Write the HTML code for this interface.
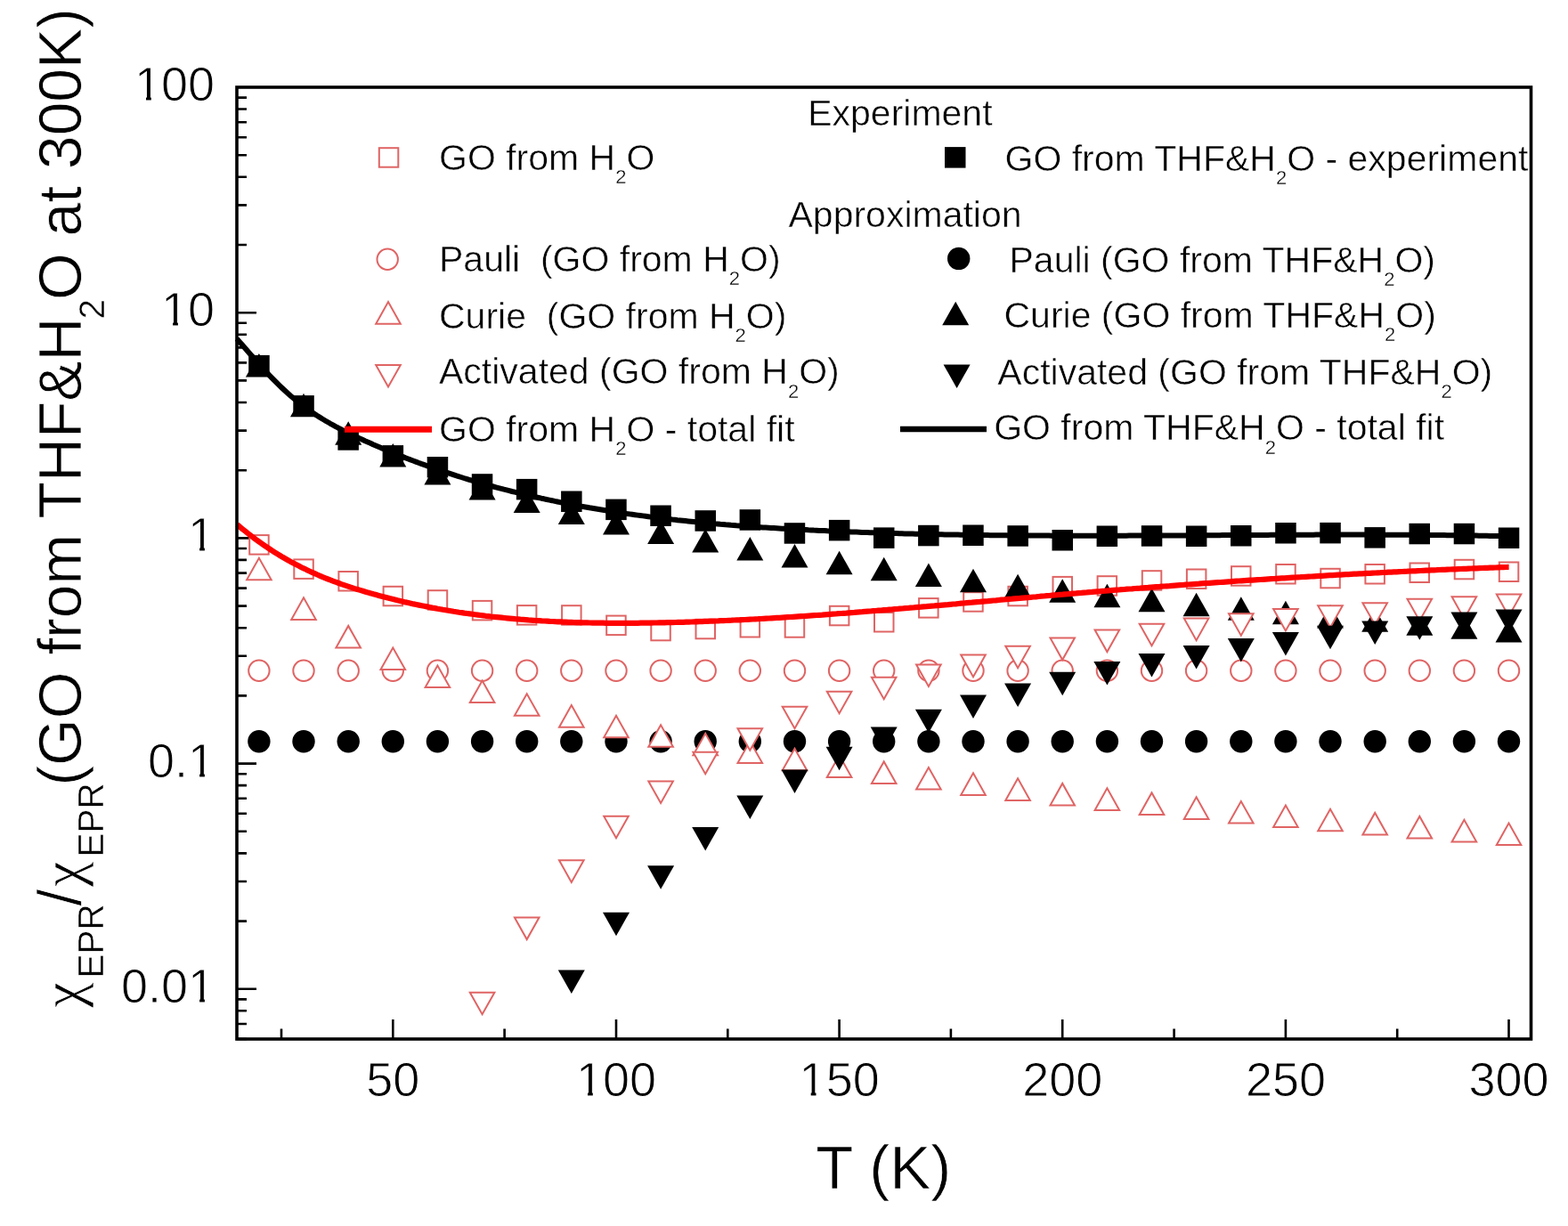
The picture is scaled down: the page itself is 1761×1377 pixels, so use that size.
<!DOCTYPE html><html><head><meta charset="utf-8"><title>chi EPR vs T</title>
<style>html,body{margin:0;padding:0;background:#fff;}svg{display:block;}text{font-family:"Liberation Sans",Arial,sans-serif;fill:#000;stroke:#fff;paint-order:fill stroke;}.tk{stroke-width:0.9px}.lg{stroke-width:0.5px}.ti{stroke-width:0.7px}.sb{stroke-width:0.35px}</style></head><body>
<svg width="1761" height="1377" viewBox="0 0 1761 1377">
<rect x="0" y="0" width="1761" height="1377" fill="#fff"/>
<path d="M316.0,1167.0V1155.5 M441.3,1167.0V1145.0 M566.6,1167.0V1155.5 M692.0,1167.0V1145.0 M817.3,1167.0V1155.5 M942.6,1167.0V1145.0 M1067.9,1167.0V1155.5 M1193.2,1167.0V1145.0 M1318.6,1167.0V1155.5 M1443.9,1167.0V1145.0 M1569.2,1167.0V1155.5 M1694.5,1167.0V1145.0 M266.0,1167.0H277.0 M266.0,1150.0H277.0 M266.0,1135.3H277.0 M266.0,1122.4H277.0 M266.0,1110.8H288.0 M266.0,1034.6H277.0 M266.0,990.0H277.0 M266.0,958.4H277.0 M266.0,933.8H277.0 M266.0,913.8H277.0 M266.0,896.8H277.0 M266.0,882.1H277.0 M266.0,869.2H277.0 M266.0,857.6H288.0 M266.0,781.4H277.0 M266.0,736.8H277.0 M266.0,705.2H277.0 M266.0,680.6H277.0 M266.0,660.6H277.0 M266.0,643.6H277.0 M266.0,628.9H277.0 M266.0,616.0H277.0 M266.0,604.4H288.0 M266.0,528.2H277.0 M266.0,483.6H277.0 M266.0,452.0H277.0 M266.0,427.4H277.0 M266.0,407.4H277.0 M266.0,390.4H277.0 M266.0,375.7H277.0 M266.0,362.8H277.0 M266.0,351.2H288.0 M266.0,275.0H277.0 M266.0,230.4H277.0 M266.0,198.8H277.0 M266.0,174.2H277.0 M266.0,154.2H277.0 M266.0,137.2H277.0 M266.0,122.5H277.0 M266.0,109.6H277.0" stroke="#000" stroke-width="2.6" fill="none"/>
<g fill="#fff" stroke="#e06464" stroke-width="2.0"><rect x="280.2" y="601.1" width="21.5" height="21.5"/><rect x="330.3" y="628.4" width="21.5" height="21.5"/><rect x="380.4" y="642.0" width="21.5" height="21.5"/><rect x="430.6" y="658.8" width="21.5" height="21.5"/><rect x="480.7" y="663.2" width="21.5" height="21.5"/><rect x="530.8" y="674.9" width="21.5" height="21.5"/><rect x="580.9" y="680.1" width="21.5" height="21.5"/><rect x="631.1" y="680.2" width="21.5" height="21.5"/><rect x="681.2" y="691.6" width="21.5" height="21.5"/><rect x="731.3" y="697.8" width="21.5" height="21.5"/><rect x="781.5" y="695.8" width="21.5" height="21.5"/><rect x="831.6" y="694.0" width="21.5" height="21.5"/><rect x="881.7" y="694.2" width="21.5" height="21.5"/><rect x="931.9" y="680.8" width="21.5" height="21.5"/><rect x="982.0" y="688.0" width="21.5" height="21.5"/><rect x="1032.1" y="672.1" width="21.5" height="21.5"/><rect x="1082.2" y="665.2" width="21.5" height="21.5"/><rect x="1132.4" y="658.8" width="21.5" height="21.5"/><rect x="1182.5" y="647.9" width="21.5" height="21.5"/><rect x="1232.6" y="647.2" width="21.5" height="21.5"/><rect x="1282.8" y="641.2" width="21.5" height="21.5"/><rect x="1332.9" y="639.5" width="21.5" height="21.5"/><rect x="1383.0" y="636.2" width="21.5" height="21.5"/><rect x="1433.2" y="634.0" width="21.5" height="21.5"/><rect x="1483.3" y="638.8" width="21.5" height="21.5"/><rect x="1533.4" y="634.0" width="21.5" height="21.5"/><rect x="1583.5" y="632.5" width="21.5" height="21.5"/><rect x="1633.7" y="628.8" width="21.5" height="21.5"/><rect x="1683.8" y="631.5" width="21.5" height="21.5"/></g>
<g fill="#000"><rect x="279.2" y="398.9" width="23.5" height="23.5"/><rect x="329.3" y="444.1" width="23.5" height="23.5"/><rect x="379.4" y="482.2" width="23.5" height="23.5"/><rect x="429.6" y="500.1" width="23.5" height="23.5"/><rect x="479.7" y="513.0" width="23.5" height="23.5"/><rect x="529.8" y="532.2" width="23.5" height="23.5"/><rect x="579.9" y="537.9" width="23.5" height="23.5"/><rect x="630.1" y="551.5" width="23.5" height="23.5"/><rect x="680.2" y="560.6" width="23.5" height="23.5"/><rect x="730.3" y="567.5" width="23.5" height="23.5"/><rect x="780.5" y="573.2" width="23.5" height="23.5"/><rect x="830.6" y="572.2" width="23.5" height="23.5"/><rect x="880.7" y="587.2" width="23.5" height="23.5"/><rect x="930.9" y="583.9" width="23.5" height="23.5"/><rect x="981.0" y="592.4" width="23.5" height="23.5"/><rect x="1031.1" y="589.8" width="23.5" height="23.5"/><rect x="1081.2" y="589.5" width="23.5" height="23.5"/><rect x="1131.4" y="590.2" width="23.5" height="23.5"/><rect x="1181.5" y="595.0" width="23.5" height="23.5"/><rect x="1231.6" y="590.5" width="23.5" height="23.5"/><rect x="1281.8" y="590.2" width="23.5" height="23.5"/><rect x="1331.9" y="590.5" width="23.5" height="23.5"/><rect x="1382.0" y="590.0" width="23.5" height="23.5"/><rect x="1432.2" y="587.0" width="23.5" height="23.5"/><rect x="1482.3" y="586.9" width="23.5" height="23.5"/><rect x="1532.4" y="592.1" width="23.5" height="23.5"/><rect x="1582.5" y="587.8" width="23.5" height="23.5"/><rect x="1632.7" y="587.8" width="23.5" height="23.5"/><rect x="1682.8" y="592.5" width="23.5" height="23.5"/></g>
<g fill="#fff" stroke="#e06464" stroke-width="2.0"><circle cx="290.9" cy="753.3" r="11.7"/><circle cx="341.0" cy="753.3" r="11.7"/><circle cx="391.2" cy="753.3" r="11.7"/><circle cx="441.3" cy="753.3" r="11.7"/><circle cx="491.4" cy="753.3" r="11.7"/><circle cx="541.6" cy="753.3" r="11.7"/><circle cx="591.7" cy="753.3" r="11.7"/><circle cx="641.8" cy="753.3" r="11.7"/><circle cx="692.0" cy="753.3" r="11.7"/><circle cx="742.1" cy="753.3" r="11.7"/><circle cx="792.2" cy="753.3" r="11.7"/><circle cx="842.3" cy="753.3" r="11.7"/><circle cx="892.5" cy="753.3" r="11.7"/><circle cx="942.6" cy="753.3" r="11.7"/><circle cx="992.7" cy="753.3" r="11.7"/><circle cx="1042.9" cy="753.3" r="11.7"/><circle cx="1093.0" cy="753.3" r="11.7"/><circle cx="1143.1" cy="753.3" r="11.7"/><circle cx="1193.2" cy="753.3" r="11.7"/><circle cx="1243.4" cy="753.3" r="11.7"/><circle cx="1293.5" cy="753.3" r="11.7"/><circle cx="1343.6" cy="753.3" r="11.7"/><circle cx="1393.8" cy="753.3" r="11.7"/><circle cx="1443.9" cy="753.3" r="11.7"/><circle cx="1494.0" cy="753.3" r="11.7"/><circle cx="1544.2" cy="753.3" r="11.7"/><circle cx="1594.3" cy="753.3" r="11.7"/><circle cx="1644.4" cy="753.3" r="11.7"/><circle cx="1694.5" cy="753.3" r="11.7"/></g>
<g fill="#000"><circle cx="290.9" cy="832.7" r="12.7"/><circle cx="341.0" cy="832.7" r="12.7"/><circle cx="391.2" cy="832.7" r="12.7"/><circle cx="441.3" cy="832.7" r="12.7"/><circle cx="491.4" cy="832.7" r="12.7"/><circle cx="541.6" cy="832.7" r="12.7"/><circle cx="591.7" cy="832.7" r="12.7"/><circle cx="641.8" cy="832.7" r="12.7"/><circle cx="692.0" cy="832.7" r="12.7"/><circle cx="742.1" cy="832.7" r="12.7"/><circle cx="792.2" cy="832.7" r="12.7"/><circle cx="842.3" cy="832.7" r="12.7"/><circle cx="892.5" cy="832.7" r="12.7"/><circle cx="942.6" cy="832.7" r="12.7"/><circle cx="992.7" cy="832.7" r="12.7"/><circle cx="1042.9" cy="832.7" r="12.7"/><circle cx="1093.0" cy="832.7" r="12.7"/><circle cx="1143.1" cy="832.7" r="12.7"/><circle cx="1193.2" cy="832.7" r="12.7"/><circle cx="1243.4" cy="832.7" r="12.7"/><circle cx="1293.5" cy="832.7" r="12.7"/><circle cx="1343.6" cy="832.7" r="12.7"/><circle cx="1393.8" cy="832.7" r="12.7"/><circle cx="1443.9" cy="832.7" r="12.7"/><circle cx="1494.0" cy="832.7" r="12.7"/><circle cx="1544.2" cy="832.7" r="12.7"/><circle cx="1594.3" cy="832.7" r="12.7"/><circle cx="1644.4" cy="832.7" r="12.7"/><circle cx="1694.5" cy="832.7" r="12.7"/></g>
<g fill="#fff" stroke="#e06464" stroke-width="2.0" stroke-linejoin="miter"><polygon points="277.1,651.3 304.7,651.3 290.9,626.7"/><polygon points="327.2,695.9 354.8,695.9 341.0,671.3"/><polygon points="377.4,727.5 405.0,727.5 391.2,702.9"/><polygon points="427.5,752.1 455.1,752.1 441.3,727.5"/><polygon points="477.6,772.1 505.2,772.1 491.4,747.5"/><polygon points="527.8,789.1 555.4,789.1 541.6,764.5"/><polygon points="577.9,803.7 605.5,803.7 591.7,779.2"/><polygon points="628.0,816.7 655.6,816.7 641.8,792.1"/><polygon points="678.2,828.3 705.8,828.3 692.0,803.7"/><polygon points="728.3,838.8 755.9,838.8 742.1,814.2"/><polygon points="778.4,848.3 806.0,848.3 792.2,823.7"/><polygon points="828.5,857.1 856.1,857.1 842.3,832.5"/><polygon points="878.7,865.3 906.3,865.3 892.5,840.7"/><polygon points="928.8,872.9 956.4,872.9 942.6,848.3"/><polygon points="978.9,880.0 1006.5,880.0 992.7,855.4"/><polygon points="1029.1,886.6 1056.7,886.6 1042.9,862.0"/><polygon points="1079.2,892.9 1106.8,892.9 1093.0,868.3"/><polygon points="1129.3,898.9 1156.9,898.9 1143.1,874.3"/><polygon points="1179.5,904.5 1207.0,904.5 1193.2,879.9"/><polygon points="1229.6,909.9 1257.2,909.9 1243.4,885.3"/><polygon points="1279.7,915.0 1307.3,915.0 1293.5,890.4"/><polygon points="1329.8,919.9 1357.4,919.9 1343.6,895.3"/><polygon points="1380.0,924.5 1407.6,924.5 1393.8,900.0"/><polygon points="1430.1,929.0 1457.7,929.0 1443.9,904.5"/><polygon points="1480.2,933.3 1507.8,933.3 1494.0,908.8"/><polygon points="1530.4,937.5 1558.0,937.5 1544.2,912.9"/><polygon points="1580.5,941.5 1608.1,941.5 1594.3,916.9"/><polygon points="1630.6,945.4 1658.2,945.4 1644.4,920.8"/><polygon points="1680.8,949.1 1708.3,949.1 1694.5,924.5"/></g>
<g fill="#000"><polygon points="275.9,423.6 305.9,423.6 290.9,397.1"/><polygon points="326.0,468.2 356.0,468.2 341.0,441.7"/><polygon points="376.2,499.8 406.2,499.8 391.2,473.3"/><polygon points="426.3,524.4 456.3,524.4 441.3,497.9"/><polygon points="476.4,544.4 506.4,544.4 491.4,517.9"/><polygon points="526.6,561.4 556.6,561.4 541.6,534.9"/><polygon points="576.7,576.0 606.7,576.0 591.7,549.5"/><polygon points="626.8,589.0 656.8,589.0 641.8,562.5"/><polygon points="677.0,600.6 707.0,600.6 692.0,574.1"/><polygon points="727.1,611.1 757.1,611.1 742.1,584.6"/><polygon points="777.2,620.6 807.2,620.6 792.2,594.1"/><polygon points="827.3,629.4 857.3,629.4 842.3,602.9"/><polygon points="877.5,637.6 907.5,637.6 892.5,611.1"/><polygon points="927.6,645.2 957.6,645.2 942.6,618.7"/><polygon points="977.7,652.3 1007.7,652.3 992.7,625.8"/><polygon points="1027.9,658.9 1057.9,658.9 1042.9,632.4"/><polygon points="1078.0,665.2 1108.0,665.2 1093.0,638.7"/><polygon points="1128.1,671.2 1158.1,671.2 1143.1,644.7"/><polygon points="1178.2,676.8 1208.2,676.8 1193.2,650.3"/><polygon points="1228.4,682.2 1258.4,682.2 1243.4,655.7"/><polygon points="1278.5,687.3 1308.5,687.3 1293.5,660.8"/><polygon points="1328.6,692.2 1358.6,692.2 1343.6,665.7"/><polygon points="1378.8,696.8 1408.8,696.8 1393.8,670.3"/><polygon points="1428.9,701.3 1458.9,701.3 1443.9,674.8"/><polygon points="1479.0,705.6 1509.0,705.6 1494.0,679.1"/><polygon points="1529.2,709.8 1559.2,709.8 1544.2,683.3"/><polygon points="1579.3,713.8 1609.3,713.8 1594.3,687.3"/><polygon points="1629.4,717.7 1659.4,717.7 1644.4,691.2"/><polygon points="1679.5,721.4 1709.5,721.4 1694.5,694.9"/></g>
<g fill="#fff" stroke="#e06464" stroke-width="2.0" stroke-linejoin="miter"><polygon points="527.8,1114.7 555.4,1114.7 541.6,1139.3"/><polygon points="577.9,1030.5 605.5,1030.5 591.7,1055.1"/><polygon points="628.0,966.3 655.6,966.3 641.8,990.9"/><polygon points="678.2,916.7 705.8,916.7 692.0,941.3"/><polygon points="728.3,877.4 755.9,877.4 742.1,902.0"/><polygon points="778.4,844.7 806.0,844.7 792.2,869.3"/><polygon points="828.5,818.2 856.1,818.2 842.3,842.8"/><polygon points="878.7,793.7 906.3,793.7 892.5,818.3"/><polygon points="928.8,776.7 956.4,776.7 942.6,801.3"/><polygon points="978.9,760.7 1006.5,760.7 992.7,785.3"/><polygon points="1029.1,746.4 1056.7,746.4 1042.9,771.0"/><polygon points="1079.2,735.6 1106.8,735.6 1093.0,760.2"/><polygon points="1129.3,725.7 1156.9,725.7 1143.1,750.3"/><polygon points="1179.5,716.5 1207.0,716.5 1193.2,741.1"/><polygon points="1229.6,707.5 1257.2,707.5 1243.4,732.1"/><polygon points="1279.7,700.7 1307.3,700.7 1293.5,725.3"/><polygon points="1329.8,694.6 1357.4,694.6 1343.6,719.2"/><polygon points="1380.0,689.2 1407.6,689.2 1393.8,713.8"/><polygon points="1430.1,683.9 1457.7,683.9 1443.9,708.5"/><polygon points="1480.2,680.2 1507.8,680.2 1494.0,704.8"/><polygon points="1530.4,677.2 1558.0,677.2 1544.2,701.8"/><polygon points="1580.5,672.7 1608.1,672.7 1594.3,697.3"/><polygon points="1630.6,670.3 1658.2,670.3 1644.4,694.9"/><polygon points="1680.8,667.6 1708.3,667.6 1694.5,692.2"/></g>
<g fill="#000"><polygon points="626.8,1089.5 656.8,1089.5 641.8,1116.0"/><polygon points="677.0,1024.7 707.0,1024.7 692.0,1051.2"/><polygon points="727.1,972.2 757.1,972.2 742.1,998.8"/><polygon points="777.2,929.1 807.2,929.1 792.2,955.6"/><polygon points="827.3,893.5 857.3,893.5 842.3,920.0"/><polygon points="877.5,864.5 907.5,864.5 892.5,891.0"/><polygon points="927.6,838.8 957.6,838.8 942.6,865.2"/><polygon points="977.7,816.5 1007.7,816.5 992.7,843.0"/><polygon points="1027.9,796.8 1057.9,796.8 1042.9,823.2"/><polygon points="1078.0,780.5 1108.0,780.5 1093.0,807.0"/><polygon points="1128.1,767.4 1158.1,767.4 1143.1,793.9"/><polygon points="1178.2,754.8 1208.2,754.8 1193.2,781.2"/><polygon points="1228.4,743.0 1258.4,743.0 1243.4,769.5"/><polygon points="1278.5,734.1 1308.5,734.1 1293.5,760.6"/><polygon points="1328.6,725.1 1358.6,725.1 1343.6,751.6"/><polygon points="1378.8,717.0 1408.8,717.0 1393.8,743.5"/><polygon points="1428.9,710.0 1458.9,710.0 1443.9,736.5"/><polygon points="1479.0,702.8 1509.0,702.8 1494.0,729.2"/><polygon points="1529.2,697.5 1559.2,697.5 1544.2,724.0"/><polygon points="1579.3,692.2 1609.3,692.2 1594.3,718.8"/><polygon points="1629.4,687.6 1659.4,687.6 1644.4,714.1"/><polygon points="1679.5,684.5 1709.5,684.5 1694.5,711.0"/></g>
<path d="M266.5,589.2 L269.5,591.8 L272.5,594.3 L275.5,596.7 L278.5,599.1 L281.5,601.4 L284.5,603.7 L287.5,606.0 L290.5,608.1 L293.5,610.3 L296.5,612.4 L299.5,614.4 L302.5,616.4 L305.5,618.4 L308.5,620.3 L311.5,622.2 L314.5,624.0 L317.5,625.8 L320.5,627.5 L323.5,629.2 L326.5,630.9 L329.5,632.5 L332.5,634.1 L335.5,635.6 L338.5,637.2 L341.5,638.6 L344.5,640.1 L347.5,641.5 L350.5,642.9 L353.5,644.2 L356.5,645.5 L359.5,646.8 L362.5,648.1 L365.5,649.3 L368.5,650.5 L371.5,651.6 L374.5,652.8 L377.5,653.9 L380.5,655.0 L383.5,656.1 L386.5,657.1 L389.5,658.1 L392.5,659.1 L395.5,660.1 L398.5,661.1 L401.5,662.0 L404.5,662.9 L407.5,663.8 L410.5,664.7 L413.5,665.6 L416.5,666.4 L419.5,667.3 L422.5,668.1 L425.5,668.9 L428.5,669.7 L431.5,670.5 L434.5,671.3 L437.5,672.1 L440.5,672.8 L443.5,673.5 L446.5,674.3 L449.5,675.0 L452.5,675.7 L455.5,676.4 L458.5,677.0 L461.5,677.7 L464.5,678.4 L467.5,679.0 L470.5,679.6 L473.5,680.2 L476.5,680.8 L479.5,681.4 L482.5,682.0 L485.5,682.6 L488.5,683.1 L491.5,683.7 L494.5,684.2 L497.5,684.8 L500.5,685.3 L503.5,685.8 L506.5,686.3 L509.5,686.8 L512.5,687.2 L515.5,687.7 L518.5,688.1 L521.5,688.6 L524.5,689.0 L527.5,689.4 L530.5,689.8 L533.5,690.2 L536.5,690.6 L539.5,691.0 L542.5,691.4 L545.5,691.8 L548.5,692.1 L551.5,692.5 L554.5,692.8 L557.5,693.1 L560.5,693.4 L563.5,693.7 L566.5,694.0 L569.5,694.3 L572.5,694.6 L575.5,694.9 L578.5,695.2 L581.5,695.4 L584.5,695.7 L587.5,695.9 L590.5,696.1 L593.5,696.4 L596.5,696.6 L599.5,696.8 L602.5,697.0 L605.5,697.2 L608.5,697.4 L611.5,697.5 L614.5,697.7 L617.5,697.9 L620.5,698.0 L623.5,698.2 L626.5,698.3 L629.5,698.4 L632.5,698.6 L635.5,698.7 L638.5,698.8 L641.5,698.9 L644.5,699.0 L647.5,699.1 L650.5,699.2 L653.5,699.3 L656.5,699.4 L659.5,699.4 L662.5,699.5 L665.5,699.6 L668.5,699.6 L671.5,699.7 L674.5,699.7 L677.5,699.7 L680.5,699.8 L683.5,699.8 L686.5,699.8 L689.5,699.8 L692.5,699.8 L695.5,699.8 L698.5,699.9 L701.5,699.8 L704.5,699.8 L707.5,699.8 L710.5,699.8 L713.5,699.8 L716.5,699.8 L719.5,699.7 L722.5,699.7 L725.5,699.7 L728.5,699.6 L731.5,699.6 L734.5,699.5 L737.5,699.5 L740.5,699.4 L743.5,699.4 L746.5,699.3 L749.5,699.2 L752.5,699.2 L755.5,699.1 L758.5,699.0 L761.5,698.9 L764.5,698.8 L767.5,698.8 L770.5,698.7 L773.5,698.6 L776.5,698.5 L779.5,698.4 L782.5,698.3 L785.5,698.2 L788.5,698.1 L791.5,697.9 L794.5,697.8 L797.5,697.7 L800.5,697.6 L803.5,697.5 L806.5,697.4 L809.5,697.2 L812.5,697.1 L815.5,697.0 L818.5,696.8 L821.5,696.7 L824.5,696.5 L827.5,696.4 L830.5,696.3 L833.5,696.1 L836.5,696.0 L839.5,695.8 L842.5,695.6 L845.5,695.5 L848.5,695.3 L851.5,695.2 L854.5,695.0 L857.5,694.8 L860.5,694.6 L863.5,694.5 L866.5,694.3 L869.5,694.1 L872.5,693.9 L875.5,693.8 L878.5,693.6 L881.5,693.4 L884.5,693.2 L887.5,693.0 L890.5,692.8 L893.5,692.6 L896.5,692.4 L899.5,692.2 L902.5,692.0 L905.5,691.8 L908.5,691.6 L911.5,691.4 L914.5,691.2 L917.5,691.0 L920.5,690.8 L923.5,690.6 L926.5,690.3 L929.5,690.1 L932.5,689.9 L935.5,689.7 L938.5,689.5 L941.5,689.2 L944.5,689.0 L947.5,688.8 L950.5,688.6 L953.5,688.3 L956.5,688.1 L959.5,687.9 L962.5,687.6 L965.5,687.4 L968.5,687.2 L971.5,686.9 L974.5,686.7 L977.5,686.5 L980.5,686.2 L983.5,686.0 L986.5,685.7 L989.5,685.5 L992.5,685.2 L995.5,685.0 L998.5,684.7 L1001.5,684.5 L1004.5,684.2 L1007.5,684.0 L1010.5,683.7 L1013.5,683.5 L1016.5,683.2 L1019.5,683.0 L1022.5,682.7 L1025.5,682.5 L1028.5,682.2 L1031.5,681.9 L1034.5,681.7 L1037.5,681.4 L1040.5,681.2 L1043.5,680.9 L1046.5,680.6 L1049.5,680.4 L1052.5,680.1 L1055.5,679.9 L1058.5,679.6 L1061.5,679.3 L1064.5,679.1 L1067.5,678.8 L1070.5,678.5 L1073.5,678.3 L1076.5,678.0 L1079.5,677.7 L1082.5,677.5 L1085.5,677.2 L1088.5,676.9 L1091.5,676.7 L1094.5,676.4 L1097.5,676.1 L1100.5,675.9 L1103.5,675.6 L1106.5,675.3 L1109.5,675.1 L1112.5,674.8 L1115.5,674.5 L1118.5,674.3 L1121.5,674.0 L1124.5,673.7 L1127.5,673.5 L1130.5,673.2 L1133.5,672.9 L1136.5,672.7 L1139.5,672.4 L1142.5,672.1 L1145.5,671.9 L1148.5,671.6 L1151.5,671.3 L1154.5,671.1 L1157.5,670.8 L1160.5,670.5 L1163.5,670.3 L1166.5,670.0 L1169.5,669.7 L1172.5,669.5 L1175.5,669.2 L1178.5,669.0 L1181.5,668.7 L1184.5,668.4 L1187.5,668.2 L1190.5,667.9 L1193.5,667.7 L1196.5,667.4 L1199.5,667.2 L1202.5,666.9 L1205.5,666.6 L1208.5,666.4 L1211.5,666.1 L1214.5,665.9 L1217.5,665.6 L1220.5,665.4 L1223.5,665.1 L1226.5,664.9 L1229.5,664.6 L1232.5,664.4 L1235.5,664.2 L1238.5,663.9 L1241.5,663.7 L1244.5,663.4 L1247.5,663.2 L1250.5,662.9 L1253.5,662.7 L1256.5,662.5 L1259.5,662.2 L1262.5,662.0 L1265.5,661.7 L1268.5,661.5 L1271.5,661.3 L1274.5,661.0 L1277.5,660.8 L1280.5,660.6 L1283.5,660.3 L1286.5,660.1 L1289.5,659.9 L1292.5,659.6 L1295.5,659.4 L1298.5,659.2 L1301.5,659.0 L1304.5,658.7 L1307.5,658.5 L1310.5,658.3 L1313.5,658.1 L1316.5,657.8 L1319.5,657.6 L1322.5,657.4 L1325.5,657.2 L1328.5,657.0 L1331.5,656.7 L1334.5,656.5 L1337.5,656.3 L1340.5,656.1 L1343.5,655.9 L1346.5,655.7 L1349.5,655.4 L1352.5,655.2 L1355.5,655.0 L1358.5,654.8 L1361.5,654.6 L1364.5,654.4 L1367.5,654.2 L1370.5,654.0 L1373.5,653.8 L1376.5,653.6 L1379.5,653.4 L1382.5,653.2 L1385.5,652.9 L1388.5,652.7 L1391.5,652.5 L1394.5,652.3 L1397.5,652.1 L1400.5,651.9 L1403.5,651.7 L1406.5,651.6 L1409.5,651.4 L1412.5,651.2 L1415.5,651.0 L1418.5,650.8 L1421.5,650.6 L1424.5,650.4 L1427.5,650.2 L1430.5,650.0 L1433.5,649.8 L1436.5,649.6 L1439.5,649.4 L1442.5,649.3 L1445.5,649.1 L1448.5,648.9 L1451.5,648.7 L1454.5,648.5 L1457.5,648.3 L1460.5,648.2 L1463.5,648.0 L1466.5,647.8 L1469.5,647.6 L1472.5,647.5 L1475.5,647.3 L1478.5,647.1 L1481.5,646.9 L1484.5,646.8 L1487.5,646.6 L1490.5,646.4 L1493.5,646.2 L1496.5,646.1 L1499.5,645.9 L1502.5,645.7 L1505.5,645.6 L1508.5,645.4 L1511.5,645.2 L1514.5,645.1 L1517.5,644.9 L1520.5,644.7 L1523.5,644.6 L1526.5,644.4 L1529.5,644.3 L1532.5,644.1 L1535.5,643.9 L1538.5,643.8 L1541.5,643.6 L1544.5,643.5 L1547.5,643.3 L1550.5,643.2 L1553.5,643.0 L1556.5,642.9 L1559.5,642.7 L1562.5,642.6 L1565.5,642.4 L1568.5,642.3 L1571.5,642.1 L1574.5,642.0 L1577.5,641.8 L1580.5,641.7 L1583.5,641.5 L1586.5,641.4 L1589.5,641.3 L1592.5,641.1 L1595.5,641.0 L1598.5,640.8 L1601.5,640.7 L1604.5,640.6 L1607.5,640.4 L1610.5,640.3 L1613.5,640.2 L1616.5,640.0 L1619.5,639.9 L1622.5,639.8 L1625.5,639.6 L1628.5,639.5 L1631.5,639.4 L1634.5,639.3 L1637.5,639.1 L1640.5,639.0 L1643.5,638.9 L1646.5,638.8 L1649.5,638.6 L1652.5,638.5 L1655.5,638.4 L1658.5,638.3 L1661.5,638.1 L1664.5,638.0 L1667.5,637.9 L1670.5,637.8 L1673.5,637.7 L1676.5,637.6 L1679.5,637.5 L1682.5,637.3 L1685.5,637.2 L1688.5,637.1 L1691.5,637.0 L1694.5,636.9 L1694.6,636.9" fill="none" stroke="#ff0000" stroke-width="6.2" stroke-linejoin="round"/>
<path d="M266.0,380.6 L269.0,383.9 L272.0,387.3 L275.0,390.7 L278.0,394.2 L281.0,397.7 L284.0,401.1 L287.0,404.5 L290.0,407.9 L293.0,411.2 L296.0,414.5 L299.0,417.8 L302.0,421.0 L305.0,424.1 L308.0,427.2 L311.0,430.2 L314.0,433.1 L317.0,436.0 L320.0,438.8 L323.0,441.5 L326.0,444.2 L329.0,446.7 L332.0,449.2 L335.0,451.7 L338.0,454.0 L341.0,456.3 L344.0,458.5 L347.0,460.6 L350.0,462.7 L353.0,464.7 L356.0,466.7 L359.0,468.6 L362.0,470.5 L365.0,472.3 L368.0,474.0 L371.0,475.8 L374.0,477.4 L377.0,479.1 L380.0,480.7 L383.0,482.2 L386.0,483.8 L389.0,485.3 L392.0,486.7 L395.0,488.2 L398.0,489.6 L401.0,491.0 L404.0,492.4 L407.0,493.8 L410.0,495.2 L413.0,496.5 L416.0,497.8 L419.0,499.2 L422.0,500.5 L425.0,501.8 L428.0,503.1 L431.0,504.3 L434.0,505.6 L437.0,506.8 L440.0,508.1 L443.0,509.3 L446.0,510.5 L449.0,511.7 L452.0,512.9 L455.0,514.1 L458.0,515.2 L461.0,516.4 L464.0,517.5 L467.0,518.6 L470.0,519.8 L473.0,520.9 L476.0,521.9 L479.0,523.0 L482.0,524.1 L485.0,525.1 L488.0,526.2 L491.0,527.2 L494.0,528.2 L497.0,529.3 L500.0,530.3 L503.0,531.2 L506.0,532.2 L509.0,533.2 L512.0,534.2 L515.0,535.1 L518.0,536.0 L521.0,537.0 L524.0,537.9 L527.0,538.8 L530.0,539.7 L533.0,540.6 L536.0,541.4 L539.0,542.3 L542.0,543.2 L545.0,544.0 L548.0,544.8 L551.0,545.7 L554.0,546.5 L557.0,547.3 L560.0,548.1 L563.0,548.9 L566.0,549.7 L569.0,550.4 L572.0,551.2 L575.0,552.0 L578.0,552.7 L581.0,553.4 L584.0,554.2 L587.0,554.9 L590.0,555.6 L593.0,556.3 L596.0,557.0 L599.0,557.7 L602.0,558.3 L605.0,559.0 L608.0,559.7 L611.0,560.3 L614.0,561.0 L617.0,561.6 L620.0,562.2 L623.0,562.9 L626.0,563.5 L629.0,564.1 L632.0,564.7 L635.0,565.3 L638.0,565.9 L641.0,566.4 L644.0,567.0 L647.0,567.6 L650.0,568.1 L653.0,568.7 L656.0,569.2 L659.0,569.7 L662.0,570.3 L665.0,570.8 L668.0,571.3 L671.0,571.8 L674.0,572.3 L677.0,572.8 L680.0,573.3 L683.0,573.8 L686.0,574.2 L689.0,574.7 L692.0,575.2 L695.0,575.6 L698.0,576.1 L701.0,576.5 L704.0,577.0 L707.0,577.4 L710.0,577.8 L713.0,578.2 L716.0,578.6 L719.0,579.0 L722.0,579.4 L725.0,579.8 L728.0,580.2 L731.0,580.6 L734.0,581.0 L737.0,581.4 L740.0,581.7 L743.0,582.1 L746.0,582.4 L749.0,582.8 L752.0,583.1 L755.0,583.5 L758.0,583.8 L761.0,584.2 L764.0,584.5 L767.0,584.8 L770.0,585.1 L773.0,585.4 L776.0,585.7 L779.0,586.0 L782.0,586.3 L785.0,586.6 L788.0,586.9 L791.0,587.2 L794.0,587.5 L797.0,587.7 L800.0,588.0 L803.0,588.3 L806.0,588.5 L809.0,588.8 L812.0,589.0 L815.0,589.3 L818.0,589.5 L821.0,589.8 L824.0,590.0 L827.0,590.3 L830.0,590.5 L833.0,590.7 L836.0,590.9 L839.0,591.1 L842.0,591.4 L845.0,591.6 L848.0,591.8 L851.0,592.0 L854.0,592.2 L857.0,592.4 L860.0,592.6 L863.0,592.8 L866.0,593.0 L869.0,593.1 L872.0,593.3 L875.0,593.5 L878.0,593.7 L881.0,593.8 L884.0,594.0 L887.0,594.2 L890.0,594.4 L893.0,594.5 L896.0,594.7 L899.0,594.8 L902.0,595.0 L905.0,595.1 L908.0,595.3 L911.0,595.4 L914.0,595.6 L917.0,595.7 L920.0,595.9 L923.0,596.0 L926.0,596.1 L929.0,596.3 L932.0,596.4 L935.0,596.5 L938.0,596.7 L941.0,596.8 L944.0,596.9 L947.0,597.0 L950.0,597.2 L953.0,597.3 L956.0,597.4 L959.0,597.5 L962.0,597.6 L965.0,597.7 L968.0,597.9 L971.0,598.0 L974.0,598.1 L977.0,598.2 L980.0,598.3 L983.0,598.4 L986.0,598.5 L989.0,598.6 L992.0,598.7 L995.0,598.8 L998.0,598.8 L1001.0,598.9 L1004.0,599.0 L1007.0,599.1 L1010.0,599.2 L1013.0,599.3 L1016.0,599.4 L1019.0,599.4 L1022.0,599.5 L1025.0,599.6 L1028.0,599.7 L1031.0,599.7 L1034.0,599.8 L1037.0,599.9 L1040.0,599.9 L1043.0,600.0 L1046.0,600.1 L1049.0,600.1 L1052.0,600.2 L1055.0,600.3 L1058.0,600.3 L1061.0,600.4 L1064.0,600.4 L1067.0,600.5 L1070.0,600.5 L1073.0,600.6 L1076.0,600.6 L1079.0,600.7 L1082.0,600.7 L1085.0,600.8 L1088.0,600.8 L1091.0,600.9 L1094.0,600.9 L1097.0,601.0 L1100.0,601.0 L1103.0,601.0 L1106.0,601.1 L1109.0,601.1 L1112.0,601.2 L1115.0,601.2 L1118.0,601.2 L1121.0,601.3 L1124.0,601.3 L1127.0,601.3 L1130.0,601.3 L1133.0,601.4 L1136.0,601.4 L1139.0,601.4 L1142.0,601.4 L1145.0,601.5 L1148.0,601.5 L1151.0,601.5 L1154.0,601.5 L1157.0,601.5 L1160.0,601.6 L1163.0,601.6 L1166.0,601.6 L1169.0,601.6 L1172.0,601.6 L1175.0,601.6 L1178.0,601.6 L1181.0,601.7 L1184.0,601.7 L1187.0,601.7 L1190.0,601.7 L1193.0,601.7 L1196.0,601.7 L1199.0,601.7 L1202.0,601.7 L1205.0,601.7 L1208.0,601.7 L1211.0,601.7 L1214.0,601.7 L1217.0,601.7 L1220.0,601.7 L1223.0,601.7 L1226.0,601.7 L1229.0,601.7 L1232.0,601.7 L1235.0,601.7 L1238.0,601.7 L1241.0,601.7 L1244.0,601.7 L1247.0,601.7 L1250.0,601.7 L1253.0,601.7 L1256.0,601.7 L1259.0,601.7 L1262.0,601.7 L1265.0,601.7 L1268.0,601.6 L1271.0,601.6 L1274.0,601.6 L1277.0,601.6 L1280.0,601.6 L1283.0,601.6 L1286.0,601.6 L1289.0,601.6 L1292.0,601.6 L1295.0,601.5 L1298.0,601.5 L1301.0,601.5 L1304.0,601.5 L1307.0,601.5 L1310.0,601.5 L1313.0,601.5 L1316.0,601.4 L1319.0,601.4 L1322.0,601.4 L1325.0,601.4 L1328.0,601.4 L1331.0,601.4 L1334.0,601.4 L1337.0,601.3 L1340.0,601.3 L1343.0,601.3 L1346.0,601.3 L1349.0,601.3 L1352.0,601.3 L1355.0,601.2 L1358.0,601.2 L1361.0,601.2 L1364.0,601.2 L1367.0,601.2 L1370.0,601.2 L1373.0,601.1 L1376.0,601.1 L1379.0,601.1 L1382.0,601.1 L1385.0,601.1 L1388.0,601.1 L1391.0,601.0 L1394.0,601.0 L1397.0,601.0 L1400.0,601.0 L1403.0,601.0 L1406.0,601.0 L1409.0,600.9 L1412.0,600.9 L1415.0,600.9 L1418.0,600.9 L1421.0,600.9 L1424.0,600.9 L1427.0,600.8 L1430.0,600.8 L1433.0,600.8 L1436.0,600.8 L1439.0,600.8 L1442.0,600.8 L1445.0,600.8 L1448.0,600.7 L1451.0,600.7 L1454.0,600.7 L1457.0,600.7 L1460.0,600.7 L1463.0,600.7 L1466.0,600.7 L1469.0,600.7 L1472.0,600.7 L1475.0,600.7 L1478.0,600.6 L1481.0,600.6 L1484.0,600.6 L1487.0,600.6 L1490.0,600.6 L1493.0,600.6 L1496.0,600.6 L1499.0,600.6 L1502.0,600.6 L1505.0,600.6 L1508.0,600.6 L1511.0,600.6 L1514.0,600.6 L1517.0,600.6 L1520.0,600.6 L1523.0,600.6 L1526.0,600.6 L1529.0,600.6 L1532.0,600.6 L1535.0,600.6 L1538.0,600.6 L1541.0,600.6 L1544.0,600.6 L1547.0,600.6 L1550.0,600.6 L1553.0,600.6 L1556.0,600.7 L1559.0,600.7 L1562.0,600.7 L1565.0,600.7 L1568.0,600.7 L1571.0,600.7 L1574.0,600.7 L1577.0,600.8 L1580.0,600.8 L1583.0,600.8 L1586.0,600.8 L1589.0,600.8 L1592.0,600.8 L1595.0,600.9 L1598.0,600.9 L1601.0,600.9 L1604.0,600.9 L1607.0,601.0 L1610.0,601.0 L1613.0,601.0 L1616.0,601.1 L1619.0,601.1 L1622.0,601.1 L1625.0,601.2 L1628.0,601.2 L1631.0,601.2 L1634.0,601.3 L1637.0,601.3 L1640.0,601.3 L1643.0,601.4 L1646.0,601.4 L1649.0,601.5 L1652.0,601.5 L1655.0,601.6 L1658.0,601.6 L1661.0,601.7 L1664.0,601.7 L1667.0,601.8 L1670.0,601.8 L1673.0,601.9 L1676.0,601.9 L1679.0,602.0 L1682.0,602.0 L1685.0,602.1 L1688.0,602.2 L1691.0,602.2 L1694.0,602.3 L1694.6,602.3" fill="none" stroke="#000" stroke-width="6" stroke-linejoin="round"/>
<rect x="266.0" y="98.0" width="1453.5" height="1069.0" fill="none" stroke="#000" stroke-width="3.6"/>
<text class="tk" x="411.3" y="1231" font-size="54">50</text>
<text class="tk" x="646.9" y="1231" font-size="54">100</text>
<text class="tk" x="897.6" y="1231" font-size="54">150</text>
<text class="tk" x="1148.2" y="1231" font-size="54">200</text>
<text class="tk" x="1398.9" y="1231" font-size="54">250</text>
<text class="tk" x="1649.5" y="1231" font-size="54">300</text>
<text class="tk" x="150.9" y="113.0" font-size="54">100</text>
<text class="tk" x="181.0" y="366.2" font-size="54">10</text>
<text class="tk" x="211.0" y="619.4" font-size="54">1</text>
<text class="tk" x="165.9" y="872.6" font-size="54">0.1</text>
<text class="tk" x="135.9" y="1125.8" font-size="54">0.01</text>
<g fill="#fff"><rect x="649.4" y="1226.0" width="10.6" height="6.5"/><rect x="665.8" y="1226.0" width="10.6" height="6.5"/><rect x="900.1" y="1226.0" width="10.6" height="6.5"/><rect x="916.5" y="1226.0" width="10.6" height="6.5"/><rect x="153.4" y="108.0" width="10.6" height="6.5"/><rect x="169.8" y="108.0" width="10.6" height="6.5"/><rect x="183.5" y="361.2" width="10.6" height="6.5"/><rect x="199.9" y="361.2" width="10.6" height="6.5"/><rect x="213.5" y="614.4" width="10.6" height="6.5"/><rect x="229.9" y="614.4" width="10.6" height="6.5"/><rect x="213.5" y="867.6" width="10.6" height="6.5"/><rect x="229.9" y="867.6" width="10.6" height="6.5"/><rect x="213.5" y="1120.8" width="10.6" height="6.5"/><rect x="229.9" y="1120.8" width="10.6" height="6.5"/></g>
<text class="ti" x="916.2" y="1335" font-size="69">T (K)</text>
<text class="ti" transform="translate(91,1131.8) rotate(-90)" font-size="64" style="font-family:&quot;Liberation Serif&quot;, serif">χ</text>
<text class="lg" transform="translate(116,1098.5) rotate(-90)" font-size="40.5" style="font-family:&quot;Liberation Sans&quot;, sans-serif">EPR</text>
<text class="ti" transform="translate(91,1017.5) rotate(-90)" font-size="67.8" style="font-family:&quot;Liberation Sans&quot;, sans-serif">/</text>
<text class="ti" transform="translate(91,996) rotate(-90)" font-size="64" style="font-family:&quot;Liberation Serif&quot;, serif">χ</text>
<text class="lg" transform="translate(116,962.5) rotate(-90)" font-size="40.5" style="font-family:&quot;Liberation Sans&quot;, sans-serif">EPR</text>
<text class="ti" transform="translate(91,882.5) rotate(-90)" font-size="67.8" style="font-family:&quot;Liberation Sans&quot;, sans-serif">(GO from THF&amp;H</text>
<text class="lg" transform="translate(117,358.6) rotate(-90)" font-size="40.5" style="font-family:&quot;Liberation Sans&quot;, sans-serif">2</text>
<text class="ti" transform="translate(91,337) rotate(-90)" font-size="67.8" style="font-family:&quot;Liberation Sans&quot;, sans-serif">O at 300K)</text>
<text class="lg" x="907.2" y="140.5" font-size="41">Experiment</text>
<text class="lg" x="885.5" y="255" font-size="41">Approximation</text>
<text class="lg" x="493.0" y="190.5" font-size="41" text-anchor="start">GO from H<tspan class="sb" font-size="22" dy="15.5">2</tspan><tspan class="lg" dy="-15.5">O</tspan></text>
<text class="lg" x="493.0" y="304.5" font-size="41" text-anchor="start">Pauli&#160; (GO from H<tspan class="sb" font-size="22" dy="15.5">2</tspan><tspan class="lg" dy="-15.5">O)</tspan></text>
<text class="lg" x="493.0" y="368.7" font-size="41" text-anchor="start">Curie&#160; (GO from H<tspan class="sb" font-size="22" dy="15.5">2</tspan><tspan class="lg" dy="-15.5">O)</tspan></text>
<text class="lg" x="493.0" y="431.3" font-size="41" text-anchor="start">Activated (GO from H<tspan class="sb" font-size="22" dy="15.5">2</tspan><tspan class="lg" dy="-15.5">O)</tspan></text>
<text class="lg" x="493.0" y="495.5" font-size="41" text-anchor="start">GO from H<tspan class="sb" font-size="22" dy="15.5">2</tspan><tspan class="lg" dy="-15.5">O - total fit</tspan></text>
<text class="lg" x="1128.5" y="191.5" font-size="41" text-anchor="start">GO from THF&amp;H<tspan class="sb" font-size="22" dy="15.5">2</tspan><tspan class="lg" dy="-15.5">O - experiment</tspan></text>
<text class="lg" x="1133.5" y="305.5" font-size="41" text-anchor="start">Pauli (GO from THF&amp;H<tspan class="sb" font-size="22" dy="15.5">2</tspan><tspan class="lg" dy="-15.5">O)</tspan></text>
<text class="lg" x="1127.5" y="367.7" font-size="41" text-anchor="start">Curie (GO from THF&amp;H<tspan class="sb" font-size="22" dy="15.5">2</tspan><tspan class="lg" dy="-15.5">O)</tspan></text>
<text class="lg" x="1120.3" y="431.9" font-size="41" text-anchor="start">Activated (GO from THF&amp;H<tspan class="sb" font-size="22" dy="15.5">2</tspan><tspan class="lg" dy="-15.5">O)</tspan></text>
<text class="lg" x="1116.2" y="494.1" font-size="41" text-anchor="start">GO from THF&amp;H<tspan class="sb" font-size="22" dy="15.5">2</tspan><tspan class="lg" dy="-15.5">O - total fit</tspan></text>
<g fill="#fff" stroke="#e06464" stroke-width="2.0"><rect x="425.8" y="166.2" width="21.5" height="21.5"/><circle cx="435.2" cy="291.3" r="11.7"/><polygon points="422.2,363.7 449.8,363.7 436.0,339.1"/><polygon points="422.2,409.9 449.8,409.9 436.0,434.5"/></g>
<g fill="#000"><rect x="1061.0" y="165.1" width="23.5" height="23.5"/><circle cx="1076.7" cy="290.4" r="12.7"/><polygon points="1058.2,365.2 1088.2,365.2 1073.2,338.8"/><polygon points="1059.6,409.4 1089.6,409.4 1074.6,435.9"/></g>
<path d="M387,482.3H485" stroke="#ff0000" stroke-width="7"/>
<path d="M1011,482H1108" stroke="#000" stroke-width="6.5"/>
</svg></body></html>
